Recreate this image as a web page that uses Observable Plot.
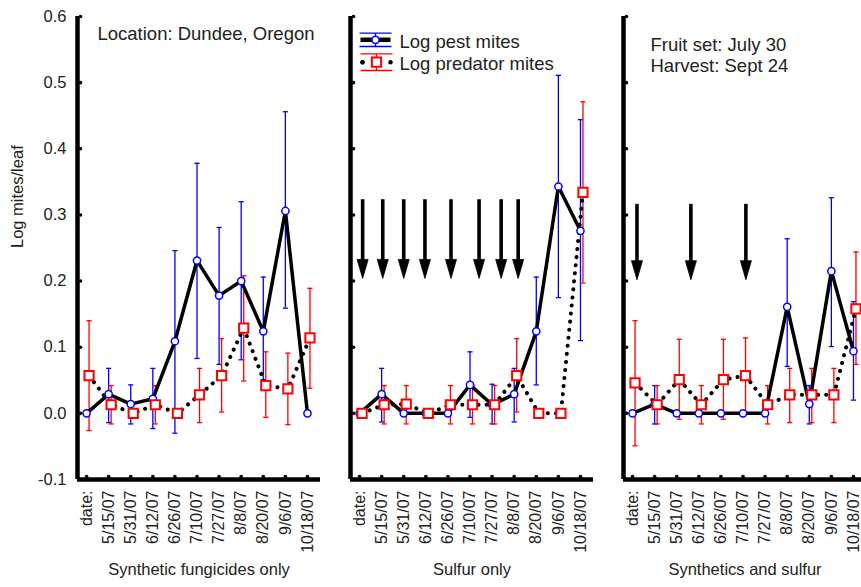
<!DOCTYPE html>
<html><head><meta charset="utf-8">
<script src="https://cdn.jsdelivr.net/npm/d3@7"></script>
<script src="https://cdn.jsdelivr.net/npm/@observablehq/plot@0.6"></script>
<style>
body{margin:0;background:#fff;}
#wrap{position:relative;width:861px;height:587px;overflow:hidden;background:#fff;font-family:"Liberation Sans",Arial,sans-serif;}
.panel{position:absolute;top:0;}
</style></head>
<body><div id="wrap"></div>
<script>
// ---- data ----
const xLabels = ["date:", "5/15/07", "5/31/07", "6/12/07", "6/26/07", "7/10/07", "7/27/07", "8/8/07", "8/20/07", "9/6/07", "10/18/07"];
const yTicks = [-0.1, 0, 0.1, 0.2, 0.3, 0.4, 0.5, 0.6];
const panelTitles = ["Synthetic fungicides only", "Sulfur only", "Synthetics and sulfur"];
const yTitle = "Log mites/leaf";
const legendLabels = ["Log pest mites", "Log predator mites"];
const note1 = "Location: Dundee, Oregon";
const note3 = "Fruit set: July 30\nHarvest: Sept 24";

// Synthetic fungicides only
const pest1   = [0.000, 0.029, 0.014, 0.022, 0.109, 0.231, 0.178, 0.200, 0.124, 0.306, 0.000];
const pest1Lo = [null, -0.014, -0.016, -0.023, -0.030, 0.083, 0.074, 0.081, 0.051, 0.159, null];
const pest1Hi = [null, 0.068, 0.043, 0.068, 0.246, 0.378, 0.281, 0.320, 0.206, 0.456, null];
const pred1   = [0.057, 0.013, 0.000, 0.013, 0.000, 0.028, 0.057, 0.129, 0.042, 0.037, 0.114];
const pred1Lo = [-0.026, -0.016, null, -0.016, null, -0.014, 0.002, 0.049, -0.006, -0.017, 0.038];
const pred1Hi = [0.140, 0.042, null, 0.042, null, 0.068, 0.113, 0.208, 0.093, 0.091, 0.189];

// Sulfur only
const pest2   = [0.000, 0.029, 0.000, 0.000, 0.000, 0.043, 0.013, 0.029, 0.124, 0.343, 0.276];
const pest2Lo = [null, -0.013, null, null, null, -0.006, -0.016, -0.013, 0.043, 0.175, 0.110];
const pest2Hi = [null, 0.068, null, null, null, 0.093, 0.044, 0.068, 0.206, 0.511, 0.444];
const pred2   = [0.000, 0.013, 0.014, 0.000, 0.013, 0.013, 0.013, 0.057, 0.000, 0.000, 0.334];
const pred2Lo = [null, -0.016, -0.016, null, -0.016, -0.016, -0.016, 0.002, null, null, 0.197];
const pred2Hi = [null, 0.042, 0.042, null, 0.042, 0.042, 0.042, 0.113, null, null, 0.471];
const sprays2 = [0.14, 1.05, 2.0, 2.96, 4.14, 5.41, 6.41, 7.18];
const spray2Top = 0.323, spray2Tip = 0.204;

// Synthetics and sulfur
const pest3   = [0.000, 0.014, 0.000, 0.000, 0.000, 0.000, 0.000, 0.161, 0.014, 0.215, 0.094];
const pest3Lo = [null, -0.016, null, null, null, null, null, 0.071, -0.016, 0.101, 0.020];
const pest3Hi = [null, 0.042, null, null, null, null, null, 0.264, 0.042, 0.326, 0.169];
const pred3   = [0.046, 0.013, 0.051, 0.013, 0.051, 0.057, 0.013, 0.028, 0.028, 0.028, 0.158];
const pred3Lo = [-0.049, -0.016, -0.009, -0.016, -0.009, 0.000, -0.016, -0.014, -0.014, -0.014, 0.074];
const pred3Hi = [0.140, 0.042, 0.112, 0.042, 0.112, 0.114, 0.042, 0.068, 0.068, 0.068, 0.244];
const sprays3 = [0.2, 2.64, 5.13];
const spray3Top = 0.316, spray3Tip = 0.202;

// ---- style ----
const BLUE = "#0000ff", RED = "#ff0000", INK = "#222";
const X0 = -0.41, X1 = 10.59, Y0 = -0.1, Y1 = 0.6;
const PRED_DX = 2.5;
const FONT = "Liberation Sans, Arial, sans-serif";

const capSym = {draw(c) { c.moveTo(-2.6, 0); c.lineTo(2.6, 0); }};
const headSym = {draw(c) { c.moveTo(-5.5, -19); c.lineTo(5.5, -19); c.lineTo(0, 0); c.closePath(); }};
const hlineSym = {draw(c) { c.moveTo(-15, 0); c.lineTo(15, 0); }};
const legBars = (h) => ({draw(c) { c.moveTo(-16, -h); c.lineTo(16, -h); c.moveTo(-16, h); c.lineTo(16, h); c.moveTo(0, -h); c.lineTo(0, h); }});

function rows(v, lo, hi) { return v.map((d, i) => ({i, v: d, lo: lo[i], hi: hi[i]})); }

function panel(cfg) {
  const pest = rows(cfg.pest, cfg.pestLo, cfg.pestHi);
  const pred = rows(cfg.pred, cfg.predLo, cfg.predHi);
  const pestBars = pest.filter(d => d.lo != null);
  const predBars = pred.filter(d => d.lo != null);
  const marks = [
    // error bars
    Plot.ruleX(pestBars, {x: "i", y1: "lo", y2: "hi", stroke: BLUE, strokeWidth: 1.3}),
    Plot.dot(pestBars, {x: "i", y: "lo", symbol: capSym, fill: "none", stroke: BLUE, strokeWidth: 1.3}),
    Plot.dot(pestBars, {x: "i", y: "hi", symbol: capSym, fill: "none", stroke: BLUE, strokeWidth: 1.3}),
    Plot.ruleX(predBars, {x: "i", y1: "lo", y2: "hi", dx: PRED_DX, stroke: RED, strokeWidth: 1.3}),
    Plot.dot(predBars, {x: "i", y: "lo", dx: PRED_DX, symbol: capSym, fill: "none", stroke: RED, strokeWidth: 1.3}),
    Plot.dot(predBars, {x: "i", y: "hi", dx: PRED_DX, symbol: capSym, fill: "none", stroke: RED, strokeWidth: 1.3}),
    // lines
    Plot.line(pred, {x: "i", y: "v", dx: PRED_DX, stroke: "black", strokeWidth: 4, strokeDasharray: "0.1,8", strokeLinecap: "round"}),
    Plot.line(pest, {x: "i", y: "v", stroke: "black", strokeWidth: 3.5, strokeLinejoin: "round"}),
    // markers
    Plot.dot(pest, {x: "i", y: "v", r: 3.6, fill: "white", stroke: BLUE, strokeWidth: 1.5}),
    Plot.dot(pred, {x: "i", y: "v", dx: PRED_DX, symbol: "square", r: 5.2, fill: "white", stroke: RED, strokeWidth: 2}),
    // axes
    Plot.ruleY([Y0], {stroke: "black", strokeWidth: 4.5}),
    Plot.ruleX([X0], {stroke: "black", strokeWidth: 4.5}),
    Plot.dot(yTicks, {y: d => d, frameAnchor: "left", dx: 3, r: 1.8, fill: "black"}),
    Plot.dot(d3.range(xLabels.length), {x: d => d, frameAnchor: "bottom", dy: -3, r: 1.8, fill: "black"}),
    Plot.axisX(d3.range(xLabels.length), {tickSize: 0, tickPadding: 11, tickRotate: -90, tickFormat: i => xLabels[i], fontSize: 16, label: null, fill: INK}),
    Plot.text([cfg.title], {frameAnchor: "bottom", dy: 95, fontSize: 16.5, fill: INK})
  ];
  if (cfg.yLabels) {
    marks.push(Plot.axisY(yTicks, {tickSize: 0, tickPadding: 11, tickFormat: d => d.toFixed(1), fontSize: 16.5, label: null, fill: INK}));
    marks.push(Plot.text([yTitle], {frameAnchor: "left", dx: -60, rotate: -90, fontSize: 16.5, fill: INK}));
  }
  if (cfg.sprays) {
    marks.push(Plot.ruleX(cfg.sprays, {x: d => d, y1: cfg.sprayTop, y2: cfg.sprayTip, insetBottom: 12, stroke: "black", strokeWidth: 3.6}));
    marks.push(Plot.dot(cfg.sprays, {x: d => d, y: cfg.sprayTip, symbol: headSym, fill: "black", stroke: "black", strokeWidth: 0.8}));
  }
  if (cfg.extra) marks.push(...cfg.extra);
  const chart = Plot.plot({
    width: cfg.width, height: 587,
    marginLeft: cfg.mL, marginRight: cfg.mR, marginTop: 16, marginBottom: 108,
    x: {type: "linear", domain: [X0, X1], axis: null},
    y: {type: "linear", domain: [Y0, Y1], axis: null},
    style: {fontFamily: FONT, background: "transparent", overflow: "visible", color: INK},
    marks
  });
  const div = document.createElement("div");
  div.className = "panel";
  div.style.left = cfg.left + "px";
  div.style.width = cfg.width + "px";
  div.appendChild(chart);
  document.getElementById("wrap").appendChild(div);
}

panel({pest: pest1, pestLo: pest1Lo, pestHi: pest1Hi, pred: pred1, predLo: pred1Lo, predHi: pred1Hi,
  title: panelTitles[0], left: 0, width: 335, mL: 77, mR: 15, yLabels: true,
  extra: [Plot.text([note1], {frameAnchor: "top-left", dx: 20, dy: 17.4, lineAnchor: "middle", textAnchor: "start", fontSize: 18.5, fill: INK})]});

panel({pest: pest2, pestLo: pest2Lo, pestHi: pest2Hi, pred: pred2, predLo: pred2Lo, predHi: pred2Hi,
  title: panelTitles[1], left: 335, width: 270, mL: 15, mR: 12,
  sprays: sprays2, sprayTop: spray2Top, sprayTip: spray2Tip,
  extra: [
    Plot.dot([0], {frameAnchor: "top-left", dx: 25, dy: 23.3, symbol: legBars(6.7), fill: "none", stroke: BLUE, strokeWidth: 1.3}),
    Plot.dot([0], {frameAnchor: "top-left", dx: 25, dy: 23.3, symbol: hlineSym, fill: "none", stroke: "black", strokeWidth: 4.5}),
    Plot.dot([0], {frameAnchor: "top-left", dx: 25, dy: 23.3, r: 3.6, fill: "white", stroke: BLUE, strokeWidth: 1.5}),
    Plot.dot([0], {frameAnchor: "top-left", dx: 26, dy: 45.7, symbol: legBars(8.3), fill: "none", stroke: RED, strokeWidth: 1.3}),
    Plot.dot([0, 1], {frameAnchor: "top-left", dx: 12, dy: 45.7, r: 2.2, fill: "black"}),
    Plot.dot([0], {frameAnchor: "top-left", dx: 40, dy: 45.7, r: 2.2, fill: "black"}),
    Plot.dot([0], {frameAnchor: "top-left", dx: 26, dy: 45.7, symbol: "square", r: 5.2, fill: "white", stroke: RED, strokeWidth: 2}),
    Plot.text([legendLabels[0]], {frameAnchor: "top-left", dx: 49, dy: 25.4, lineAnchor: "middle", textAnchor: "start", fontSize: 18.5, fill: INK}),
    Plot.text([legendLabels[1]], {frameAnchor: "top-left", dx: 49, dy: 47.4, lineAnchor: "middle", textAnchor: "start", fontSize: 18.5, fill: INK})
  ]});

panel({pest: pest3, pestLo: pest3Lo, pestHi: pest3Hi, pred: pred3, predLo: pred3Lo, predHi: pred3Hi,
  title: panelTitles[2], left: 605, width: 261, mL: 18, mR: 0,
  sprays: sprays3, sprayTop: spray3Top, sprayTip: spray3Tip,
  extra: [Plot.text([note3], {frameAnchor: "top-left", dx: 27, dy: 19.2, lineAnchor: "top", textAnchor: "start", lineHeight: 1.135, fontSize: 18.5, fill: INK})]});
</script>
</body></html>
